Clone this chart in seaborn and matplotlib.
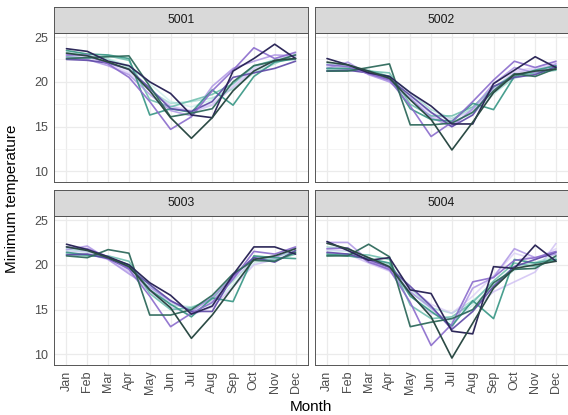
import numpy as np
import pandas as pd
import matplotlib
matplotlib.use("Agg")
import matplotlib.pyplot as plt
import seaborn as sns

# ---------------- data ----------------
months = ["Jan", "Feb", "Mar", "Apr", "May", "Jun", "Jul", "Aug", "Sep", "Oct", "Nov", "Dec"]
stations = ["5001", "5002", "5003", "5004"]
years = [2008, 2009, 2010, 2011, 2012, 2013, 2014, 2015, 2016, 2017, 2018, 2019]

temps_5001 = [
    [23.2, 23.0, 22.6, 21.8, 19.8, 17.8, 17.2, 18.0, 19.8, 21.6, 22.5, 23.0],
    [22.9, 22.7, 22.2, 21.3, 19.2, 17.3, 16.6, 17.4, 19.4, 21.3, 22.2, 22.7],
    [23.3, 22.9, 22.5, 21.6, 19.0, 17.6, 17.8, 18.2, 19.2, 21.0, 22.0, 23.1],
    [22.8, 22.6, 22.9, 22.4, 18.0, 17.2, 17.9, 18.6, 19.8, 21.8, 22.4, 22.5],
    [23.5, 23.1, 23.0, 22.6, 16.3, 17.0, 16.6, 19.1, 17.4, 20.6, 22.2, 22.6],
    [22.6, 22.7, 22.8, 22.9, 19.5, 16.1, 16.5, 17.0, 20.0, 21.8, 22.3, 23.0],
    [23.2, 22.9, 22.2, 21.4, 19.0, 16.0, 13.7, 16.0, 19.0, 21.2, 22.4, 22.6],
    [23.0, 22.8, 22.0, 21.0, 19.0, 17.3, 16.8, 17.5, 19.6, 21.5, 22.5, 23.2],
    [22.7, 22.5, 21.8, 20.8, 18.6, 16.8, 16.2, 19.5, 21.5, 22.3, 23.0, 22.9],
    [23.0, 23.0, 22.0, 20.5, 17.8, 14.7, 16.1, 19.0, 21.3, 23.8, 22.6, 23.3],
    [22.5, 22.4, 22.1, 21.4, 19.3, 17.0, 16.7, 17.8, 20.5, 21.0, 21.5, 22.3],
    [23.7, 23.4, 22.3, 21.8, 20.0, 18.7, 16.3, 16.0, 21.2, 22.6, 24.2, 22.6],
]
temps_5002 = [
    [21.8, 21.6, 21.2, 20.4, 18.4, 16.6, 15.6, 16.4, 18.6, 20.6, 21.2, 21.8],
    [21.6, 21.5, 21.0, 20.0, 18.0, 16.2, 15.2, 16.8, 19.2, 21.0, 21.4, 22.0],
    [22.0, 21.8, 21.3, 20.6, 18.8, 16.9, 15.9, 17.0, 18.8, 20.4, 21.0, 21.6],
    [21.3, 21.3, 21.2, 21.0, 17.5, 16.2, 16.2, 17.2, 19.4, 20.8, 21.0, 21.3],
    [21.5, 21.5, 21.2, 20.6, 17.0, 15.8, 15.6, 17.6, 16.9, 20.6, 21.3, 21.8],
    [21.2, 21.2, 21.6, 22.0, 15.2, 15.2, 15.4, 16.6, 19.0, 20.9, 20.6, 21.5],
    [22.2, 21.9, 21.2, 20.4, 18.0, 15.8, 12.4, 15.5, 18.8, 20.8, 21.2, 21.4],
    [21.8, 21.7, 21.0, 20.1, 18.1, 16.5, 15.8, 16.8, 19.2, 21.2, 21.6, 22.2],
    [21.5, 22.2, 20.8, 20.0, 18.2, 16.0, 15.0, 17.0, 19.8, 21.6, 21.0, 22.0],
    [21.9, 21.7, 20.9, 20.2, 17.3, 13.9, 15.5, 17.8, 20.2, 22.3, 21.6, 22.3],
    [21.2, 21.3, 21.0, 20.3, 18.5, 16.6, 15.0, 16.3, 19.5, 20.5, 20.8, 21.7],
    [22.6, 21.9, 21.0, 20.6, 18.8, 17.3, 15.3, 15.3, 19.8, 21.3, 22.8, 21.6],
]
temps_5003 = [
    [21.6, 21.4, 20.8, 19.6, 17.6, 15.8, 14.9, 15.6, 17.8, 20.2, 20.8, 21.6],
    [21.3, 21.2, 20.6, 19.2, 17.0, 15.3, 14.4, 15.3, 17.5, 20.0, 20.6, 21.3],
    [21.8, 21.5, 20.9, 19.8, 17.8, 15.5, 15.3, 16.0, 18.2, 20.6, 20.9, 21.5],
    [21.2, 21.0, 21.0, 20.4, 16.8, 15.0, 15.2, 16.2, 18.8, 20.8, 20.5, 21.2],
    [21.4, 21.1, 20.8, 20.0, 17.2, 15.6, 14.2, 16.3, 15.9, 21.0, 20.8, 20.7],
    [21.0, 20.8, 21.7, 21.3, 14.4, 14.4, 15.0, 16.6, 19.0, 20.5, 20.4, 21.4],
    [22.0, 21.6, 20.8, 19.8, 17.2, 15.2, 11.8, 14.4, 17.5, 20.6, 21.0, 21.8],
    [21.5, 21.5, 20.7, 19.4, 17.3, 15.8, 15.0, 16.0, 18.4, 20.5, 21.0, 21.8],
    [21.7, 22.1, 20.6, 19.0, 17.5, 16.0, 14.8, 16.4, 18.6, 20.9, 20.8, 21.9],
    [22.0, 21.8, 20.9, 19.5, 16.5, 13.1, 14.6, 15.8, 18.4, 21.5, 21.2, 22.0],
    [21.1, 21.2, 20.7, 19.6, 17.8, 16.0, 14.8, 14.8, 18.8, 20.8, 20.3, 21.6],
    [22.3, 21.7, 20.9, 20.0, 18.0, 16.6, 14.5, 15.4, 18.9, 22.0, 22.0, 21.2],
]
temps_5004 = [
    [21.6, 21.5, 20.6, 19.8, 17.0, 15.0, 13.6, 15.5, 17.6, 19.4, 20.2, 21.2],
    [21.3, 21.2, 20.2, 19.3, 16.6, 14.6, 13.9, 15.0, 17.0, 18.1, 19.2, 22.4],
    [22.0, 21.8, 20.8, 20.0, 17.4, 15.2, 14.6, 16.0, 17.8, 19.8, 20.3, 20.8],
    [21.0, 21.2, 21.1, 20.6, 15.5, 14.0, 14.2, 15.8, 18.2, 20.2, 19.8, 20.6],
    [21.2, 21.0, 20.7, 20.2, 16.5, 14.8, 13.2, 16.0, 14.0, 20.6, 20.2, 20.6],
    [21.0, 21.0, 22.3, 20.9, 13.1, 13.6, 14.0, 15.0, 18.0, 19.5, 19.6, 21.0],
    [22.4, 21.8, 20.8, 19.8, 16.8, 14.2, 9.6, 13.5, 17.4, 19.6, 20.0, 20.4],
    [21.7, 21.6, 20.4, 19.5, 17.4, 15.6, 14.6, 16.5, 18.8, 21.3, 20.6, 21.8],
    [22.5, 22.5, 20.5, 19.4, 17.0, 15.2, 13.0, 17.4, 18.6, 21.8, 20.8, 21.2],
    [21.8, 21.9, 20.3, 19.5, 15.8, 11.0, 13.4, 18.1, 18.6, 20.5, 20.8, 21.5],
    [21.4, 21.2, 20.6, 19.7, 17.6, 15.4, 12.8, 14.8, 17.6, 19.8, 20.6, 21.4],
    [22.6, 21.6, 20.5, 20.8, 17.2, 16.8, 12.6, 12.3, 19.8, 19.6, 22.2, 20.4],
]

# ---------------- styles ----------------
line_colors = ["#bfe9e6", "#c8b6f2", "#8fd3c8", "#5fb8a6", "#3f9a89", "#2f6a5c",
               "#2b4a44", "#d4c6f5", "#a98fe3", "#8a6bcc", "#5d47a6", "#2d2859"]
line_alphas = [0.65, 0.7, 0.65, 0.8, 0.95, 0.95, 1.0, 0.65, 0.8, 0.9, 0.9, 1.0]
draw_order = [0, 1, 2, 7, 3, 8, 4, 10, 9, 5, 11, 6]

rows = []
for st, table in zip(stations, [temps_5001, temps_5002, temps_5003, temps_5004]):
    for yr, vals in zip(years, table):
        for m, v in zip(months, vals):
            rows.append({"station": st, "year": yr, "month": m, "temp": v})
df = pd.DataFrame(rows)
df["mi"] = df["month"].map({m: i + 1 for i, m in enumerate(months)})

sns.set_theme(style="white")
plt.rcParams["font.family"] = ["Liberation Sans", "DejaVu Sans"]

W, H = 568, 415
fig = plt.figure(figsize=(W / 100, H / 100), dpi=100)
fig.patch.set_facecolor("white")

def fx(px):
    return px / W

def fy(py):
    return 1 - py / H

panel_x = [(54, 308), (314.5, 568.5)]
panel_y = [(33, 181.5), (216, 364.5)]
strip_y = [(7, 33), (190, 216)]

border_col = "#555555"
for k, st in enumerate(stations):
    r, c = divmod(k, 2)
    x0, x1 = panel_x[c]
    y0, y1 = panel_y[r]
    ax = fig.add_axes([fx(x0), fy(y1), fx(x1 - x0), (y1 - y0) / H])
    sub = df[df["station"] == st]
    for i in draw_order:
        d = sub[sub["year"] == years[i]]
        sns.lineplot(data=d, x="mi", y="temp", color=line_colors[i], alpha=line_alphas[i],
                     linewidth=1.2, ax=ax, legend=False, estimator=None)
    ax.set_xlim(0.4, 12.6)
    ax.set_ylim(8.88, 25.45)
    ax.set_xticks(range(1, 13))
    ax.set_yticks([10, 15, 20, 25])
    ax.set_yticks([12.5, 17.5, 22.5], minor=True)
    ax.grid(True, which="major", color="#ebebeb", linewidth=0.9)
    ax.grid(True, which="minor", axis="y", color="#f2f2f2", linewidth=0.5)
    ax.set_axisbelow(True)
    ax.set_facecolor("white")
    for sp in ax.spines.values():
        sp.set_color(border_col)
        sp.set_linewidth(0.7)
    ax.set_xlabel("")
    ax.set_ylabel("")
    ax.tick_params(axis="both", which="major", length=2.8, width=0.6, color="#333333",
                   labelsize=9, labelcolor="#4d4d4d", pad=1.5)
    ax.tick_params(axis="both", which="minor", length=0)
    if c == 0:
        ax.set_yticklabels(["10", "15", "20", "25"])
    else:
        ax.set_yticklabels([])
        ax.tick_params(axis="y", length=0)
    if r == 1:
        ax.set_xticklabels(months, rotation=90)
    else:
        ax.set_xticklabels([])
        ax.tick_params(axis="x", length=0)

    sy0, sy1 = strip_y[r]
    sax = fig.add_axes([fx(x0), fy(sy1), fx(x1 - x0), (sy1 - sy0) / H])
    sax.set_facecolor("#d9d9d9")
    sax.set_xticks([])
    sax.set_yticks([])
    for sp in sax.spines.values():
        sp.set_color(border_col)
        sp.set_linewidth(0.7)
    sax.text(0.5, 0.5, st, ha="center", va="center", fontsize=8.8, color="#1a1a1a",
             transform=sax.transAxes)

fig.text(fx(311), fy(407), "Month", ha="center", va="center", fontsize=11, color="black")
fig.text(fx(12), fy(199), "Minimum temperature", ha="center", va="center", rotation=90,
         fontsize=11, color="black")

fig.savefig("out.png", dpi=100, facecolor="white")
